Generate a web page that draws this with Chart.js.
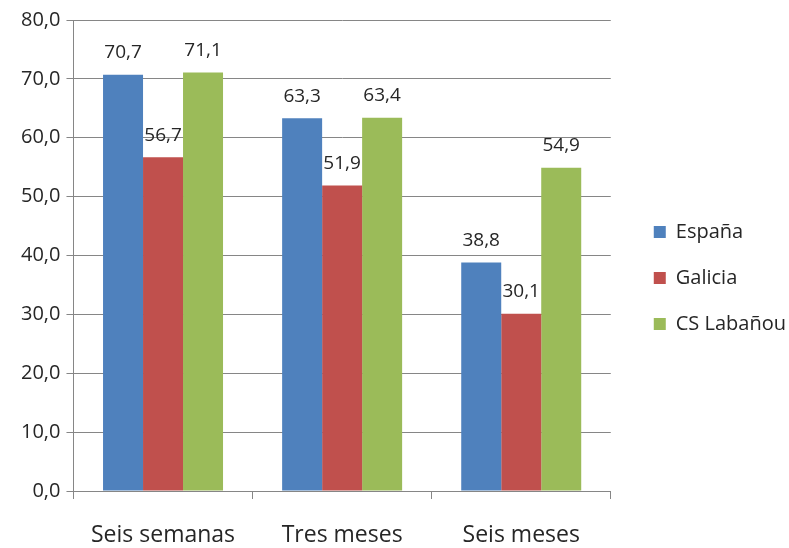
<!DOCTYPE html>
<html>
<head>
<meta charset="utf-8">
<script src="https://cdn.jsdelivr.net/npm/chart.js@4"></script>
<style>
  body { margin: 0; background: #fff; }
  #wrap { width: 789px; height: 548px; }
</style>
</head>
<body>
<div id="wrap"><canvas id="graph"></canvas></div>
<script>
let categories = ["Seis semanas", "Tres meses", "Seis meses"];
let espana = [70.7, 63.3, 38.8];
let galicia = [56.7, 51.9, 30.1];
let labanou = [71.1, 63.4, 54.9];

const fmt = (v) => v.toFixed(1).replace(".", ",");

// value labels above each bar
const valueLabels = {
  id: "valueLabels",
  afterDatasetsDraw(chart) {
    const ctx = chart.ctx;
    ctx.save();
    ctx.font = "19px 'Open Sans', sans-serif";
    ctx.fillStyle = "#262626";
    ctx.textAlign = "center";
    ctx.textBaseline = "middle";
    chart.data.datasets.forEach((ds, i) => {
      chart.getDatasetMeta(i).data.forEach((bar, j) => {
        ctx.fillText(fmt(ds.data[j]), bar.x, bar.y - 22);
      });
    });
    ctx.restore();
  },
};

// nudge the legend a bit to the right and up, like the original
const legendShift = {
  id: "legendShift",
  afterUpdate(chart) {
    const lg = chart.legend;
    const dx = chart.chartArea.right + 17 - lg.left;
    lg.left += dx;
    lg.right += dx;
    lg.top -= 6;
    lg.bottom -= 6;
  },
};

Chart.defaults.font.family = "'Open Sans', sans-serif";
Chart.defaults.color = "#262626";

new Chart(document.getElementById("graph").getContext("2d"), {
  type: "bar",
  data: {
    labels: categories,
    datasets: [
      { label: "España", data: espana, backgroundColor: "#4F81BD" },
      { label: "Galicia", data: galicia, backgroundColor: "#C0504D" },
      { label: "CS Labañou", data: labanou, backgroundColor: "#9BBB59" },
    ],
  },
  options: {
    responsive: true,
    maintainAspectRatio: false,
    animation: false,
    layout: { padding: { top: 20, right: 10, left: 15, bottom: 0 } },
    datasets: { bar: { barPercentage: 1, categoryPercentage: 0.67 } },
    plugins: {
      legend: {
        position: "right",
        labels: {
          boxWidth: 12,
          boxHeight: 12,
          padding: 26,
          font: { size: 20 },
        },
      },
      tooltip: { enabled: false },
    },
    scales: {
      y: {
        min: 0,
        max: 80,
        ticks: { stepSize: 10, callback: (v) => fmt(v), font: { size: 20 }, padding: 6 },
        grid: { color: "#868686", tickLength: 7, tickColor: "#868686" },
        border: { color: "#868686" },
      },
      x: {
        afterFit: (s) => { s.height = 57; },
        ticks: { font: { size: 23 }, padding: 23 },
        grid: { offset: true, drawOnChartArea: false, tickLength: 8, color: "#868686" },
        border: { color: "#868686" },
      },
    },
  },
  plugins: [valueLabels, legendShift],
});
</script>
</body>
</html>
